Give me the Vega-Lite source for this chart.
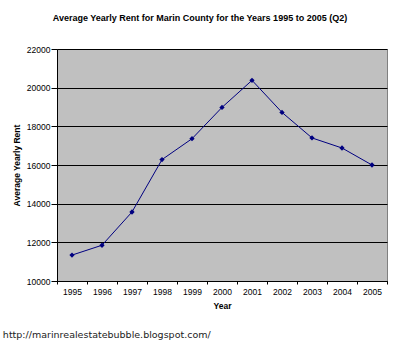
{
  "$schema": "https://vega.github.io/schema/vega-lite/v6.json",
  "autosize": {"type": "pad"},
  "padding": {"left": 2, "top": 13, "right": 4, "bottom": 6},
  "background": "white",
  "title": {
    "text": "http://marinrealestatebubble.blogspot.com/",
    "orient": "bottom",
    "anchor": "start",
    "font": "DejaVu Sans",
    "fontSize": 9.5,
    "fontWeight": "normal",
    "color": "#222222",
    "offset": 19,
    "dx": -9
  },
  "vconcat": [
    {
      "width": 330,
      "height": 232,
      "title": {
        "text": "Average Yearly Rent for Marin County for the Years 1995 to 2005 (Q2)",
        "font": "Liberation Sans",
        "fontSize": 9,
        "fontWeight": "bold",
        "color": "#000000",
        "anchor": "middle",
        "frame": "bounds",
        "offset": 22
      },
      "data": {
        "values": [
          {"Year": "1995", "Rent": 11340},
          {"Year": "1996", "Rent": 11850},
          {"Year": "1997", "Rent": 13570},
          {"Year": "1998", "Rent": 16280},
          {"Year": "1999", "Rent": 17360},
          {"Year": "2000", "Rent": 18980},
          {"Year": "2001", "Rent": 20380},
          {"Year": "2002", "Rent": 18720},
          {"Year": "2003", "Rent": 17400},
          {"Year": "2004", "Rent": 16880},
          {"Year": "2005", "Rent": 16000}
        ]
      },
      "mark": {
        "type": "line",
        "color": "#000080",
        "strokeWidth": 1,
        "point": {"shape": "diamond", "filled": true, "size": 28, "color": "#000080"}
      },
      "encoding": {
        "x": {
          "field": "Year",
          "type": "ordinal",
          "bandPosition": 0.5,
          "scale": {"type": "band", "paddingInner": 0, "paddingOuter": 0},
          "axis": {
            "title": "Year",
            "labelAngle": 0,
            "tickBand": "extent",
            "grid": false,
            "domainColor": "#000000",
            "tickColor": "#000000",
            "tickSize": 3,
            "labelFont": "Liberation Sans",
            "labelFontSize": 8.5,
            "labelColor": "#000000",
            "labelPadding": 3,
            "titleFont": "Liberation Sans",
            "titleFontSize": 8.5,
            "titleFontWeight": "bold",
            "titleColor": "#000000",
            "titlePadding": 6
          }
        },
        "y": {
          "field": "Rent",
          "type": "quantitative",
          "scale": {"domain": [10000, 22000], "nice": false, "zero": false},
          "axis": {
            "title": "Average Yearly Rent",
            "values": [10000, 12000, 14000, 16000, 18000, 20000, 22000],
            "format": "d",
            "grid": true,
            "gridColor": "#000000",
            "gridOpacity": 1,
            "gridWidth": 1,
            "domainColor": "#000000",
            "tickColor": "#000000",
            "tickSize": 6,
            "labelFont": "Liberation Sans",
            "labelFontSize": 8.5,
            "labelColor": "#000000",
            "labelPadding": 1,
            "titleFont": "Liberation Sans",
            "titleFontSize": 8.5,
            "titleFontWeight": "bold",
            "titleColor": "#000000",
            "titlePadding": 5
          }
        }
      }
    }
  ],
  "config": {
    "view": {"fill": "#c0c0c0", "stroke": "#808080", "strokeWidth": 1}
  }
}
